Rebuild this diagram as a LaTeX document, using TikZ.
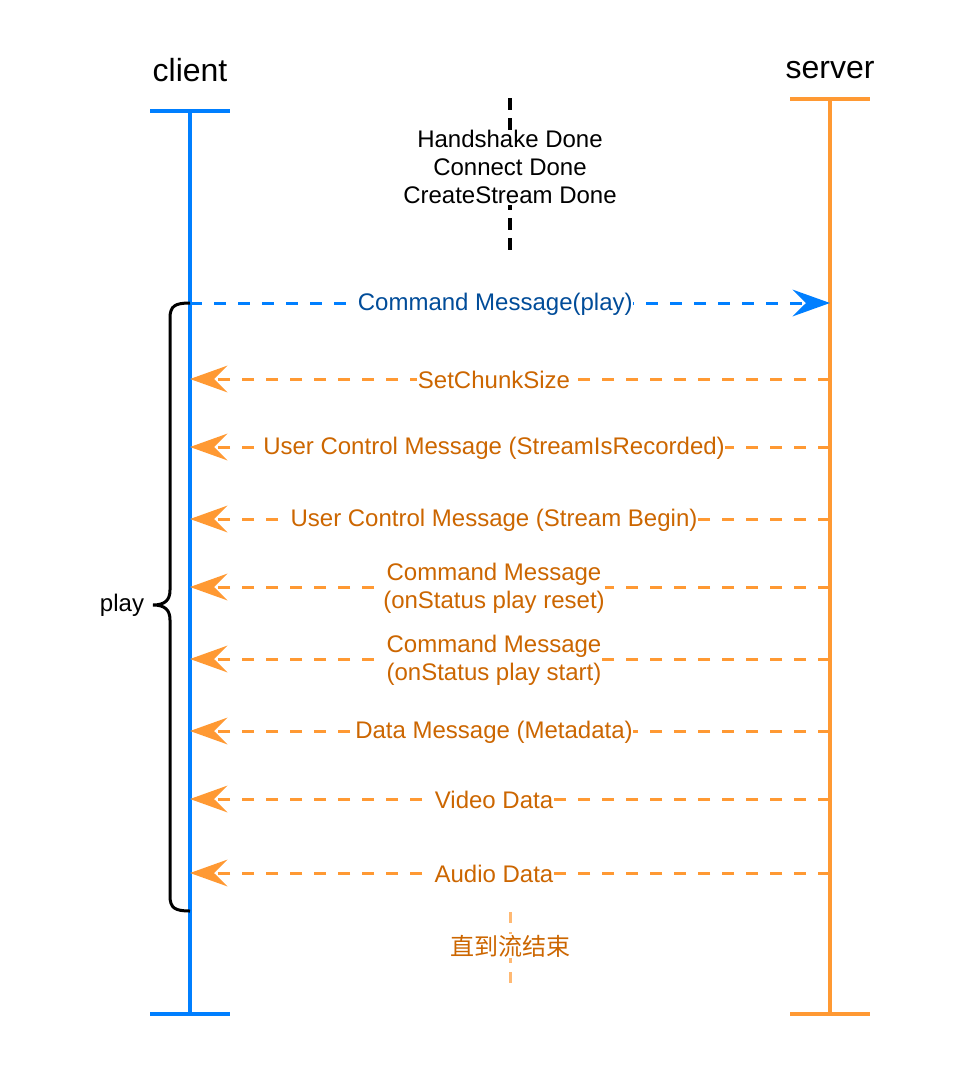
\documentclass[tikz,border=0pt]{standalone}
\usepackage{fontspec}
\setmainfont{Liberation Sans}
\newfontfamily\cjk{Noto Sans CJK SC}
\usetikzlibrary{arrows.meta}
\definecolor{cblue}{RGB}{0,127,255}
\definecolor{sorange}{RGB}{255,153,51}
\definecolor{lorange}{RGB}{255,185,115}
\definecolor{otext}{RGB}{204,102,0}
\definecolor{btext}{RGB}{0,76,153}
\begin{document}
\begin{tikzpicture}[x=0.75pt,y=-0.75pt,
    life/.style={line width=2.5pt},
    msg/.style={line width=2.25pt,dash pattern=on 9pt off 9pt},
    lbl/.style={fill=white,inner sep=0.5pt,align=center,font=\fontsize{18}{21}\selectfont},
    tipend/.style={-{Stealth[length=28pt,width=20pt,inset=10pt]}}]
  \useasboundingbox (0,0) rectangle (964,1068);
  % lifelines
  \node[font=\fontsize{24}{28}\selectfont] (client) at (190,70) {client};
  \node[font=\fontsize{24}{28}\selectfont] (server) at (830,70) {server};
  \coordinate (ct) at (190,111);
  \coordinate (cb) at (190,1014);
  \coordinate (st) at (830,99);
  \coordinate (sb) at (830,1014);
  \begin{scope}[cblue,life]
    \draw ([xshift=-30pt]ct) -- ([xshift=30pt]ct);
    \draw (ct) -- (cb);
    \draw ([xshift=-30pt]cb) -- ([xshift=30pt]cb);
  \end{scope}
  \begin{scope}[sorange,life]
    \draw ([xshift=-30pt]st) -- ([xshift=30pt]st);
    \draw (st) -- (sb);
    \draw ([xshift=-30pt]sb) -- ([xshift=30pt]sb);
  \end{scope}
  % handshake marker
  \coordinate (h1) at (510,98);
  \coordinate (h2) at (510,255);
  \draw[line width=2.5pt,dash pattern=on 9pt off 6pt] (h1) -- (h2)
    node[pos=0.44,lbl] {Handshake Done\\Connect Done\\CreateStream Done};
  % play request
  \coordinate (c303) at (190,303);
  \coordinate (s303) at (830,303);
  \draw[cblue,msg,tipend] (c303) -- (s303)
    node[pos=0.477,lbl,text=btext,yshift=-1pt] {Command Message(play)};
  % server replies
  \foreach \y/\t in {379/SetChunkSize,
      447/{User Control Message (StreamIsRecorded)},
      519/{User Control Message (Stream Begin)},
      587/{Command Message\\(onStatus play reset)},
      659/{Command Message\\(onStatus play start)},
      731/{Data Message (Metadata)},
      799/{Video Data},
      873/{Audio Data}} {
    \coordinate (s\y) at (830,\y);
    \coordinate (c\y) at (190,\y);
    \draw[sorange,msg,tipend] (s\y) -- (c\y)
      node[pos=0.525,lbl,text=otext,yshift=-1pt] {\t};
  }
  % brace
  \draw[line width=2.25pt] (190,303) .. controls (175,303) and (170,306) .. (170,318)
    -- (170,590) .. controls (170,600) and (165,605) .. (153,605)
    .. controls (165,605) and (170,610) .. (170,620)
    -- (170,896) .. controls (170,908) and (175,911) .. (190,911);
  \node[font=\fontsize{18}{21}\selectfont] (play) at (122,605) {play};
  % until end of stream
  \coordinate (e1) at (510,912);
  \coordinate (e2) at (510,990);
  \draw[lorange,line width=2.25pt,dash pattern=on 8pt off 7pt] (e1) -- (e2)
    node[pos=0.436,lbl,text=otext,font=\cjk\fontsize{18}{21}\selectfont] {直到流结束};
\end{tikzpicture}
\end{document}
